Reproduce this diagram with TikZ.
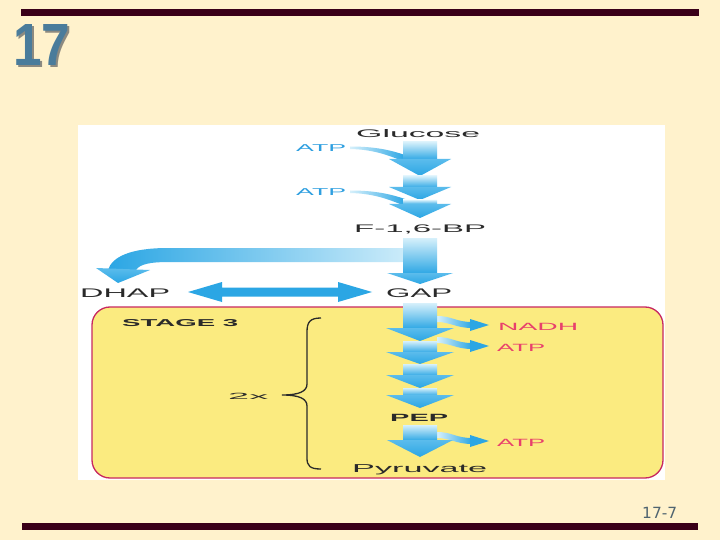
\documentclass[tikz,border=0pt]{standalone}
\usepackage{fontspec}
\setmainfont{Liberation Sans}
\newfontfamily\dejavu{DejaVu Sans}
\usepackage{graphicx}
\definecolor{bgcream}{HTML}{FFF2CC}
\definecolor{barmaroon}{HTML}{3A0018}
\definecolor{titleblue}{HTML}{4A7C9B}
\definecolor{shadowgray}{HTML}{8C8A80}
\definecolor{stageyellow}{HTML}{FBEB80}
\definecolor{stageborder}{HTML}{C82860}
\definecolor{arrowblue}{HTML}{2BA6E4}
\definecolor{arrowmid}{HTML}{5BBCEC}
\definecolor{arrowlight}{HTML}{D6F0FB}
\definecolor{labelred}{HTML}{E8406C}
\definecolor{labelblue}{HTML}{2E9FE0}
\definecolor{pagegray}{HTML}{4F6470}
\definecolor{labeldark}{HTML}{2A2A2A}
\newcommand\wtext[2]{\resizebox{#1pt}{\height}{#2}}
\newcommand\shaftseg[2]{\shade[top color=arrowlight, bottom color=arrowblue] (403,#1) rectangle (437,#2);}
\newcommand\fathead[3]{\shade[top color=arrowmid, bottom color=arrowblue] ({420-#3},#1) -- ({420+#3},#1) -- (420,#2) -- cycle;}
\newcommand\titledigits{\resizebox{57pt}{41pt}{\bfseries 17}}
\begin{document}
\begin{tikzpicture}[x=1pt,y=-1pt,
  lbl/.style={inner sep=0pt, anchor=base west, text=labeldark},
  redlbl/.style={lbl, text=labelred},
  bluelbl/.style={lbl, text=labelblue}]
\useasboundingbox (0,0) rectangle (720,540);
\fill[bgcream] (0,0) rectangle (720,540);
% bars
\fill[barmaroon] (21,9.5) rectangle (699,15.7);
\fill[barmaroon] (22,522.7) rectangle (698,530);
% title number with shadow
\node[inner sep=0pt, anchor=north west] (title) at (13,24) {\makebox[0pt][l]{\hspace{2pt}\raisebox{-2pt}{\textcolor{shadowgray}{\titledigits}}}\textcolor{titleblue}{\titledigits}};
% page number
\node[inner sep=0pt, anchor=base west, text=pagegray, font=\dejavu\fontsize{15.4}{16}\selectfont] (pagenum) at (642,518) {17-7};
% white figure area
\fill[white] (78,125) rectangle (665,480);
% stage 3 box
\draw[stageborder, line width=1.3pt, fill=stageyellow, rounded corners=18pt] (92,307) rectangle (663,478);

% ATP input arrows (top)
\shade[left color=arrowlight, right color=arrowblue] (350,146.5) .. controls (375,146.5) and (390,150) .. (405,155) -- (405,162) .. controls (390,156) and (375,149.5) .. (350,149) -- cycle;
\shade[left color=arrowlight, right color=arrowblue] (350,190.5) .. controls (375,190.5) and (390,194) .. (405,199) -- (405,206) .. controls (390,200) and (375,193.5) .. (350,193) -- cycle;
% column glucose -> F-1,6-BP
\shaftseg{142}{160}
\fathead{159}{176}{31}
\shaftseg{176}{188}
\fathead{187}{200}{31}
\shaftseg{200}{205}
\fathead{204}{218}{31}

% DHAP branch
\shade[left color=arrowblue, right color=arrowlight] (425,248) -- (168,248) .. controls (130,248) and (112,257) .. (108,270) -- (136,270) .. controls (140,264) and (150,262) .. (170,262) -- (425,262) -- cycle;
\shade[top color=arrowmid, bottom color=arrowblue] (96,268) -- (150,270) -- (118,283) -- cycle;
% column F-1,6-BP -> GAP
\shaftseg{238}{274}
\fathead{273}{284}{33}

% DHAP <-> GAP
\fill[arrowblue] (188,292) -- (222,282) -- (222,287.5) -- (338,287.5) -- (338,282) -- (372,292) -- (338,302) -- (338,296.5) -- (222,296.5) -- (222,302) -- cycle;

% stage 3 outputs
\shade[left color=arrowlight, right color=arrowblue] (437,316) .. controls (452,316) and (456,322) .. (472,322) -- (472,328) .. controls (456,328) and (450,322) .. (437,322) -- cycle;
\fill[arrowblue] (470,319) -- (489,325) -- (470,331) -- cycle;
\shade[left color=arrowlight, right color=arrowblue] (437,337) .. controls (452,337) and (456,343) .. (472,343) -- (472,349) .. controls (456,349) and (450,343) .. (437,343) -- cycle;
\fill[arrowblue] (470,340) -- (489,346) -- (470,352) -- cycle;
\shade[left color=arrowlight, right color=arrowblue] (437,432) .. controls (452,432) and (456,438) .. (472,438) -- (472,444) .. controls (456,444) and (450,438) .. (437,438) -- cycle;
\fill[arrowblue] (470,435) -- (489,441) -- (470,447) -- cycle;

% column GAP -> PEP
\shaftseg{303}{329}
\fathead{328}{341}{34}
\shaftseg{341}{353}
\fathead{352}{364}{34}
\shaftseg{364}{376}
\fathead{375}{388}{34}
\shaftseg{388}{396}
\fathead{395}{408}{34}
% column PEP -> Pyruvate
\shaftseg{425}{441}
\fathead{440}{457}{33}

% brace
\draw[labeldark, line width=1.3pt] (321,318) .. controls (310,318) and (307,322) .. (307,332) -- (307,384) .. controls (307,391) and (300,395) .. (282,395) .. controls (300,395) and (307,399) .. (307,406) -- (307,458) .. controls (307,466) and (310,469) .. (321,469);

% labels
\node[lbl, font=\fontsize{11}{11}\selectfont] (glucose) at (356,137.5) {\wtext{124}{Glucose}};
\node[bluelbl, font=\fontsize{10}{10}\selectfont] (atp1) at (296,152) {\wtext{50}{ATP}};
\node[bluelbl, font=\fontsize{10}{10}\selectfont] (atp2) at (296,196) {\wtext{50}{ATP}};
\node[lbl, font=\fontsize{11}{11}\selectfont] (f16bp) at (354,233) {\wtext{132}{F-1,6-BP}};
\node[lbl, font=\fontsize{12.5}{12}\selectfont] (dhap) at (80,297) {\wtext{90}{DHAP}};
\node[lbl, font=\fontsize{12.5}{12}\selectfont] (gap) at (386,297) {\wtext{66}{GAP}};
\node[lbl, font=\bfseries\fontsize{10}{10}\selectfont] (stage) at (122,326) {\wtext{116}{STAGE 3}};
\node[lbl, font=\fontsize{9}{9}\selectfont] (twox) at (228,399.5) {\wtext{40}{2x}};
\node[lbl, font=\bfseries\fontsize{10.5}{10}\selectfont] (pep) at (390,421.5) {\wtext{58}{PEP}};
\node[lbl, font=\fontsize{11.5}{11}\selectfont] (pyruvate) at (352,472) {\wtext{135}{Pyruvate}};
\node[redlbl, font=\fontsize{10.5}{10}\selectfont] (nadh) at (498,330) {\wtext{80}{NADH}};
\node[redlbl, font=\fontsize{10.5}{10}\selectfont] (atp3) at (497,351) {\wtext{48}{ATP}};
\node[redlbl, font=\fontsize{10.5}{10}\selectfont] (atp4) at (497,446) {\wtext{48}{ATP}};
\end{tikzpicture}
\end{document}
